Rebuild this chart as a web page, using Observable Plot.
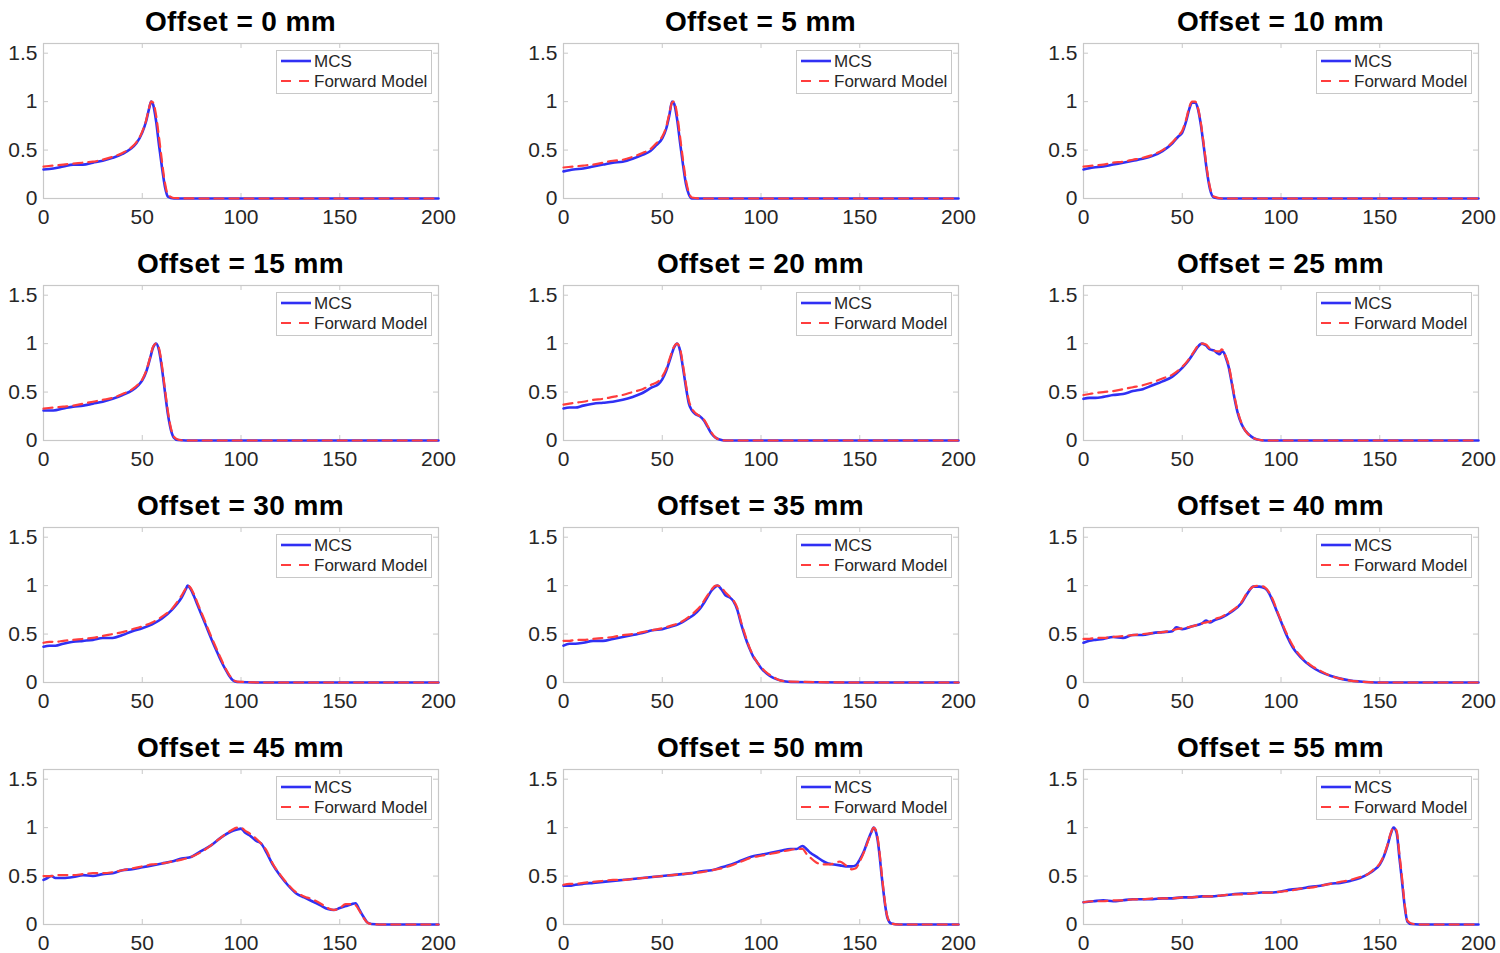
<!DOCTYPE html>
<html><head><meta charset="utf-8">
<script src="https://cdn.jsdelivr.net/npm/d3@7"></script>
<script src="https://cdn.jsdelivr.net/npm/@observablehq/plot@0.6"></script>
<style>
html,body{margin:0;padding:0;background:#fff;}
body{width:1500px;height:953px;overflow:hidden;font-family:"Liberation Sans",Arial,Helvetica,sans-serif;}
#root{position:relative;width:1500px;height:953px;}
.panel{position:absolute;width:460px;height:240px;}
.title{position:absolute;left:0px;width:481px;top:8px;text-align:center;font-weight:bold;font-size:28px;line-height:28px;letter-spacing:0.4px;color:#000;white-space:nowrap;}
.plot{position:absolute;left:0;top:33px;}
.legend{position:absolute;left:276px;top:50px;width:156px;height:44px;}
</style>
</head><body><div id="root"></div>
<script>
const offsets = [0, 5, 10, 15, 20, 25, 30, 35, 40, 45, 50, 55];
const xTicks = [0, 50, 100, 150, 200];
const yTicks = [0, 0.5, 1, 1.5];
const seriesNames = ["MCS", "Forward Model"];

const x00 = [0,5,10,15,20,25,30,35,40,44,47,50,52,53.5,54.5,55.5,57,58.5,60,61.5,63,66,80,100,130,160,200];
const mcs00 = [.30,.31,.33,.35,.35,.37,.39,.42,.46,.51,.57,.68,.80,.93,1.0,.97,.80,.55,.32,.12,.02,0,0,0,0,0,0];
const fm00 = [.33,.34,.35,.36,.37,.38,.40,.43,.47,.52,.58,.69,.81,.94,1.0,.99,.86,.63,.38,.16,.04,.005,0,0,0,0,0];

const x05 = [0,5,10,15,20,25,30,35,40,44,47,50,52,53.5,55,56,57.5,59,60.5,62,63.5,65,70,100,150,200];
const mcs05 = [.28,.30,.31,.33,.35,.37,.38,.41,.45,.49,.55,.62,.72,.85,1.0,.98,.82,.58,.35,.15,.04,0,0,0,0,0];
const fm05 = [.32,.33,.34,.35,.37,.39,.40,.43,.47,.51,.57,.64,.74,.87,.99,1.0,.87,.64,.40,.19,.06,.01,0,0,0,0];

const x10 = [0,5,10,15,20,25,30,35,40,45,48,50,52,53.5,55,56.5,58,59.5,61,62.5,64,66,70,100,150,200];
const mcs10 = [.30,.32,.33,.35,.37,.39,.41,.44,.49,.57,.64,.68,.80,.92,.99,.99,.92,.75,.52,.28,.10,.01,0,0,0,0];
const fm10 = [.33,.34,.35,.37,.38,.40,.42,.45,.50,.58,.65,.70,.82,.94,1.0,1.0,.93,.77,.54,.30,.12,.02,0,0,0,0];

const x15 = [0,5,10,15,20,25,30,35,40,45,48,50,52,54,55.5,57,58.5,60,61.5,63,64.5,66,68,72,100,150,200];
const mcs15 = [.31,.31,.33,.35,.36,.38,.40,.43,.47,.52,.57,.62,.71,.85,.96,1.0,.93,.74,.50,.27,.11,.03,.005,0,0,0,0];
const fm15 = [.33,.34,.35,.36,.38,.40,.42,.44,.48,.53,.58,.63,.72,.86,.97,1.0,.95,.77,.53,.30,.13,.04,.01,0,0,0,0];

const x20 = [0,3,6,10,15,20,25,30,35,40,45,48,50,52,54,56,57.5,59,60.5,62,63.5,65,67,69,71,73,75,77,79,82,100,150,200];
const mcs20 = [.33,.34,.34,.36,.38,.39,.40,.42,.45,.49,.55,.58,.63,.72,.84,.96,1.0,.93,.75,.55,.38,.31,.27,.25,.21,.14,.07,.03,.01,0,0,0,0];
const fm20 = [.37,.38,.39,.40,.42,.43,.45,.47,.50,.53,.58,.61,.66,.74,.86,.97,1.0,.95,.78,.58,.41,.33,.28,.25,.22,.15,.08,.03,.01,0,0,0,0];

const x25 = [0,3,6,10,15,20,25,30,35,40,45,50,53,56,58,60,62,64,66,68,69,70,71,72,73.5,75,76.5,78,80,82,85,88,92,100,150,200];
const mcs25 = [.43,.44,.44,.45,.47,.48,.51,.53,.57,.61,.66,.75,.82,.91,.97,1.0,.98,.94,.93,.90,.89,.92,.91,.86,.76,.60,.43,.29,.17,.10,.04,.01,0,0,0,0];
const fm25 = [.47,.48,.49,.50,.51,.53,.55,.57,.60,.64,.68,.76,.83,.92,.98,1.0,.99,.95,.93,.92,.92,.94,.92,.87,.78,.62,.45,.31,.18,.10,.04,.01,0,0,0,0];

const x30 = [0,3,6,10,15,20,25,30,35,40,45,50,55,60,65,68,70,72,73,74,76,78,80,82,85,88,90,92,94,96,98,110,150,200];
const mcs30 = [.37,.38,.38,.40,.42,.43,.44,.46,.46,.49,.53,.56,.60,.66,.75,.82,.88,.96,1.0,.98,.90,.80,.70,.60,.45,.31,.22,.14,.07,.02,.005,0,0,0];
const fm30 = [.41,.42,.42,.43,.44,.45,.46,.48,.50,.52,.55,.58,.62,.68,.76,.84,.90,.97,1.0,.99,.92,.82,.72,.62,.47,.33,.24,.15,.08,.03,.01,0,0,0];

const x35 = [0,3,6,10,15,20,25,30,35,40,45,50,55,58,60,63,66,69,72,75,77,78,80,82,84,86,88,90,92,94,96,98,100,103,106,110,115,150,200];
const mcs35 = [.38,.40,.40,.41,.43,.43,.45,.47,.49,.51,.54,.55,.58,.60,.62,.66,.70,.76,.85,.95,.99,1.0,.96,.90,.88,.84,.75,.60,.47,.36,.27,.21,.15,.09,.05,.02,.005,0,0];
const fm35 = [.43,.43,.44,.44,.45,.46,.47,.49,.50,.52,.54,.56,.59,.61,.63,.67,.72,.78,.87,.96,1.0,1.0,.98,.93,.89,.85,.77,.62,.49,.37,.28,.21,.16,.10,.06,.02,.01,0,0];

const x40 = [0,3,6,10,15,20,25,30,35,40,45,47,50,55,60,62,64,66,70,75,80,83,86,89,92,94,96,98,100,103,106,110,115,120,125,130,135,140,150,200];
const mcs40 = [.41,.43,.44,.45,.47,.46,.49,.49,.51,.52,.53,.57,.55,.58,.61,.64,.62,.64,.67,.73,.82,.92,.99,.99,.97,.92,.83,.73,.63,.48,.36,.26,.17,.11,.07,.04,.02,.01,0,0];
const fm40 = [.45,.45,.46,.46,.47,.48,.49,.50,.51,.52,.54,.55,.56,.58,.61,.62,.63,.65,.68,.74,.83,.93,.99,1.0,.98,.93,.85,.74,.64,.50,.38,.27,.18,.12,.07,.04,.02,.01,0,0];

const x45 = [0,2,4,6,10,15,20,25,30,35,40,45,50,55,60,65,70,75,80,85,90,95,98,100,102,105,108,110,113,116,120,124,128,132,136,140,144,147,150,153,156,158,160,162,164,166,170,200];
const mcs45 = [.46,.48,.50,.48,.48,.49,.51,.50,.52,.53,.56,.57,.59,.61,.63,.65,.68,.70,.76,.82,.90,.96,.98,.99,.95,.91,.86,.84,.74,.62,.50,.40,.32,.28,.24,.20,.16,.15,.17,.19,.21,.22,.15,.08,.02,.005,0,0];
const fm45 = [.50,.50,.50,.51,.51,.51,.52,.53,.53,.54,.56,.58,.60,.62,.63,.65,.67,.70,.75,.82,.90,.97,1.0,1.0,.97,.93,.88,.84,.76,.63,.51,.41,.33,.29,.26,.22,.17,.15,.17,.21,.21,.20,.14,.07,.02,.005,0,0];

const x50 = [0,3,6,10,15,20,25,30,35,40,45,50,55,60,65,70,75,80,85,90,95,100,105,110,115,118,121,123,125,128,131,134,137,140,143,146,148,150,152,154,156,157,158,159,160,161,162,163,164,166,170,200];
const mcs50 = [.40,.40,.41,.42,.43,.44,.45,.46,.47,.48,.49,.50,.51,.52,.53,.55,.56,.59,.62,.66,.70,.72,.74,.76,.78,.78,.81,.78,.74,.70,.66,.63,.62,.61,.60,.60,.61,.67,.75,.86,.96,1.0,.97,.88,.72,.52,.34,.18,.07,.01,0,0];
const fm50 = [.41,.42,.42,.43,.44,.45,.46,.46,.47,.48,.49,.50,.51,.52,.53,.54,.56,.58,.61,.65,.69,.71,.73,.75,.77,.78,.78,.73,.69,.64,.62,.62,.63,.65,.61,.57,.58,.65,.74,.85,.96,1.0,.98,.90,.75,.55,.36,.19,.08,.01,0,0];

const x55 = [0,5,10,15,20,25,30,35,40,45,50,55,60,65,70,75,80,85,90,95,100,105,110,115,120,125,130,135,140,144,147,150,152,154,155.5,157,158.5,160,161,162,163,164,166,170,200];
const mcs55 = [.23,.24,.25,.24,.25,.26,.26,.26,.27,.27,.28,.28,.29,.29,.30,.31,.32,.32,.33,.33,.34,.36,.37,.39,.40,.42,.43,.45,.48,.52,.56,.62,.70,.82,.93,1.0,.95,.68,.50,.30,.13,.03,.005,0,0];
const fm55 = [.23,.24,.24,.25,.25,.26,.26,.27,.27,.27,.28,.28,.29,.29,.30,.31,.31,.32,.33,.33,.34,.35,.37,.38,.40,.42,.44,.46,.49,.52,.57,.63,.71,.83,.94,1.0,.97,.72,.54,.33,.15,.04,.01,0,0];

const xs = [x00, x05, x10, x15, x20, x25, x30, x35, x40, x45, x50, x55];
const mcsList = [mcs00, mcs05, mcs10, mcs15, mcs20, mcs25, mcs30, mcs35, mcs40, mcs45, mcs50, mcs55];
const fmList = [fm00, fm05, fm10, fm15, fm20, fm25, fm30, fm35, fm40, fm45, fm50, fm55];

const BLUE = "#3030f4", RED = "#ff3d3d", FRAME = "#c8c8c8", TXT = "#262626";
const FONT = '"Liberation Sans", Arial, Helvetica, sans-serif';

function toRows(xArr, yArr) {
  const out = [];
  for (let i = 0; i < xArr.length; i++) if (yArr[i] !== undefined) out.push({x: xArr[i], y: yArr[i]});
  return out;
}

const root = document.getElementById("root");
offsets.forEach((off, i) => {
  const r = Math.floor(i / 3), c = i % 3;
  const panel = document.createElement("div");
  panel.className = "panel";
  panel.style.left = (520 * c) + "px";
  panel.style.top = (242 * r) + "px";
  const title = document.createElement("div");
  title.className = "title";
  title.textContent = `Offset = ${off} mm`;
  panel.appendChild(title);

  const mcs = toRows(xs[i], mcsList[i]);
  const fm = toRows(xs[i], fmList[i]);
  const chart = Plot.plot({
    width: 460, height: 195,
    marginLeft: 43, marginRight: 22, marginTop: 10, marginBottom: 30,
    x: {domain: [0, 200]},
    y: {domain: [0, 1.6]},
    style: {fontFamily: FONT, fontSize: "21px", color: TXT, background: "transparent", overflow: "visible"},
    marks: [
      Plot.frame({stroke: FRAME, strokeWidth: 1.2}),
      Plot.ruleX(xTicks, {x: d => d, stroke: FRAME, insetTop: 150}),
      Plot.ruleX(xTicks, {x: d => d, stroke: FRAME, insetBottom: 150}),
      Plot.ruleY(yTicks, {y: d => d, stroke: FRAME, insetRight: 390}),
      Plot.ruleY(yTicks, {y: d => d, stroke: FRAME, insetLeft: 390}),
      Plot.axisX(xTicks, {tickSize: 0, tickPadding: 11, fontSize: 21, fill: TXT, label: null, tickFormat: d => String(d)}),
      Plot.axisY(yTicks, {tickSize: 0, tickPadding: 6, fontSize: 21, fill: TXT, label: null, tickFormat: d => String(d)}),
      Plot.line(mcs, {x: "x", y: "y", stroke: BLUE, strokeWidth: 2.6, curve: "monotone-x"}),
      Plot.line(fm, {x: "x", y: "y", stroke: RED, strokeWidth: 2.2, strokeDasharray: "9,6", curve: "monotone-x"})
    ]
  });
  chart.classList.add("plot");
  panel.appendChild(chart);

  const ns = "http://www.w3.org/2000/svg";
  const leg = document.createElementNS(ns, "svg");
  leg.setAttribute("class", "legend");
  leg.setAttribute("width", 156); leg.setAttribute("height", 44);
  leg.innerHTML = `
    <rect x="0.5" y="0.5" width="155" height="43" fill="#fff" stroke="${FRAME}" stroke-width="1"/>
    <line x1="5" x2="35" y1="11" y2="11" stroke="${BLUE}" stroke-width="2.6"/>
    <line x1="5" x2="33" y1="31" y2="31" stroke="${RED}" stroke-width="2.2" stroke-dasharray="10,8"/>
    <text x="38" y="11" dy="0.36em" font-family='${FONT}' font-size="17" fill="${TXT}">${seriesNames[0]}</text>
    <text x="38" y="31" dy="0.36em" font-family='${FONT}' font-size="17" fill="${TXT}">${seriesNames[1]}</text>`;
  panel.appendChild(leg);
  root.appendChild(panel);
});
</script>
</body></html>
